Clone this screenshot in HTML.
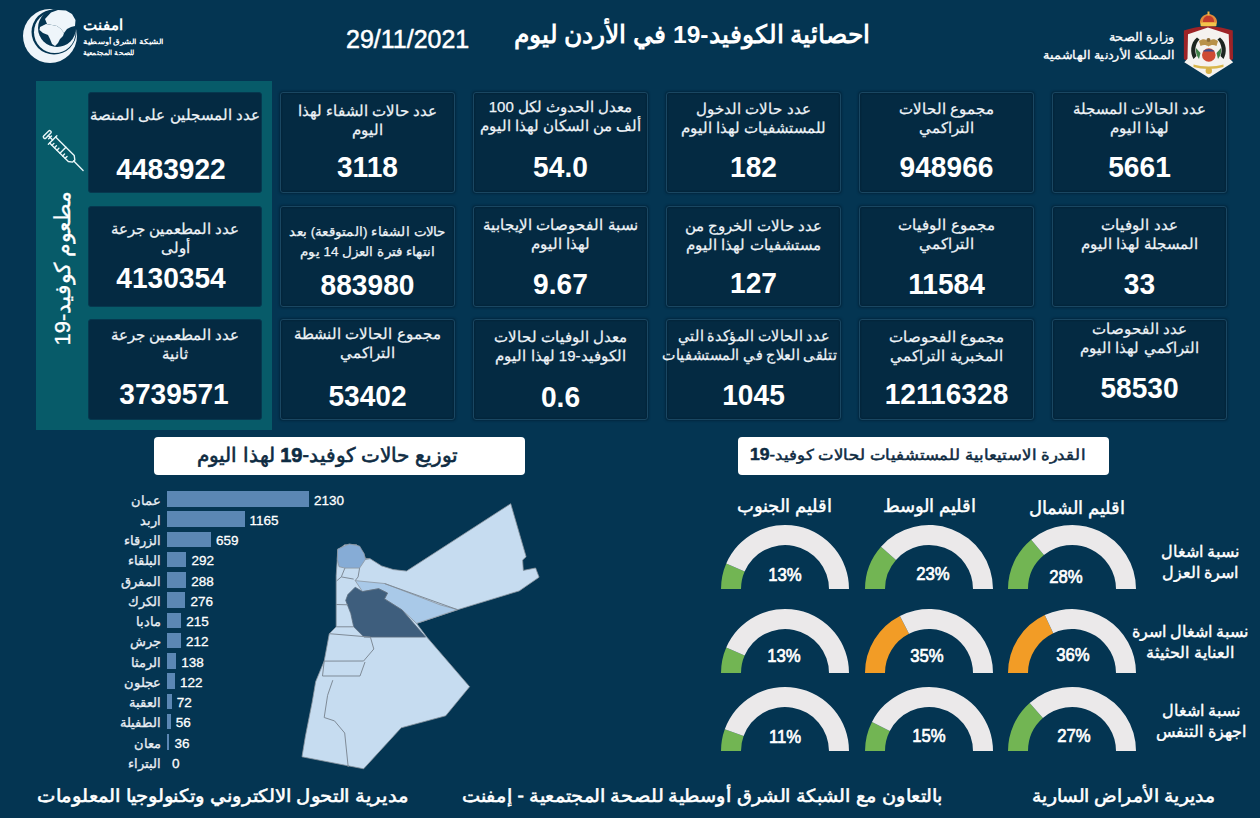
<!DOCTYPE html>
<html><head><meta charset="utf-8"><style>
*{margin:0;padding:0;box-sizing:border-box}
html,body{width:1260px;height:818px;overflow:hidden;background:#043552;font-family:'Liberation Sans', sans-serif;color:#fff}
.a{position:absolute}
.card{position:absolute;width:175px;height:101px;background:#042a42;border:1px solid #1a4762;border-radius:3px;box-shadow:0 0 2px 1px rgba(2,30,50,0.6), inset 0 0 2px rgba(0,15,30,0.6)}
.lbl{position:absolute;white-space:nowrap;text-align:center;direction:rtl;color:#eef3f7;line-height:19px;-webkit-text-stroke:0.25px #eef3f7}
.num{position:absolute;white-space:nowrap;text-align:center;font-weight:bold;font-size:29px;line-height:32px;color:#fff;transform:scaleX(0.97)}
.ar{direction:rtl;white-space:nowrap}
</style></head><body>

<div class="a" style="left:36px;top:81px;width:236px;height:349px;background:#075b69"></div>
<div class="card" style="left:1052px;top:92px"></div>
<div class="lbl" style="left:1052px;width:175px;top:99.2px;font-size:15px;line-height:19px">عدد الحالات المسجلة<br>لهذا اليوم</div>
<div class="num" style="left:1052px;width:175px;top:150.7px">5661</div>
<div class="card" style="left:859px;top:92px"></div>
<div class="lbl" style="left:859px;width:175px;top:99.2px;font-size:15px;line-height:19px">مجموع الحالات<br>التراكمي</div>
<div class="num" style="left:859px;width:175px;top:150.7px">948966</div>
<div class="card" style="left:666px;top:92px"></div>
<div class="lbl" style="left:666px;width:175px;top:99.2px;font-size:15px;line-height:19px">عدد حالات الدخول<br>للمستشفيات لهذا اليوم</div>
<div class="num" style="left:666px;width:175px;top:150.7px">182</div>
<div class="card" style="left:473px;top:92px"></div>
<div class="lbl" style="left:473px;width:175px;top:97.2px;font-size:15px;line-height:19px">معدل الحدوث لكل 100<br>ألف من السكان لهذا اليوم</div>
<div class="num" style="left:473px;width:175px;top:151.2px">54.0</div>
<div class="card" style="left:280px;top:92px"></div>
<div class="lbl" style="left:280px;width:175px;top:100.7px;font-size:15px;line-height:19px">عدد حالات الشفاء لهذا<br>اليوم</div>
<div class="num" style="left:280px;width:175px;top:151.2px">3118</div>
<div class="card" style="left:1052px;top:206px"></div>
<div class="lbl" style="left:1052px;width:175px;top:215.2px;font-size:15px;line-height:19px">عدد الوفيات<br>المسجلة لهذا اليوم</div>
<div class="num" style="left:1052px;width:175px;top:268.3px">33</div>
<div class="card" style="left:859px;top:206px"></div>
<div class="lbl" style="left:859px;width:175px;top:215.2px;font-size:15px;line-height:19px">مجموع الوفيات<br>التراكمي</div>
<div class="num" style="left:859px;width:175px;top:268.3px">11584</div>
<div class="card" style="left:666px;top:206px"></div>
<div class="lbl" style="left:666px;width:175px;top:215.5px;font-size:15px;line-height:19px">عدد حالات الخروج من<br>مستشفيات لهذا اليوم</div>
<div class="num" style="left:666px;width:175px;top:266.9px">127</div>
<div class="card" style="left:473px;top:206px"></div>
<div class="lbl" style="left:473px;width:175px;top:215.0px;font-size:15px;line-height:19px">نسبة الفحوصات الإيجابية<br>لهذا اليوم</div>
<div class="num" style="left:473px;width:175px;top:267.7px">9.67</div>
<div class="card" style="left:280px;top:206px"></div>
<div class="lbl" style="left:280px;width:175px;top:222.2px;font-size:13px;line-height:20px;transform:scaleX(1.04)">حالات الشفاء (المتوقعة) بعد<br>انتهاء فترة العزل 14 يوم</div>
<div class="num" style="left:280px;width:175px;top:269.0px">883980</div>
<div class="card" style="left:1052px;top:319px"></div>
<div class="lbl" style="left:1052px;width:175px;top:319.2px;font-size:15px;line-height:19px">عدد الفحوصات<br>التراكمي لهذا اليوم</div>
<div class="num" style="left:1052px;width:175px;top:371.7px">58530</div>
<div class="card" style="left:859px;top:319px"></div>
<div class="lbl" style="left:859px;width:175px;top:327.2px;font-size:15px;line-height:19px">مجموع الفحوصات<br>المخبرية التراكمي</div>
<div class="num" style="left:859px;width:175px;top:377.7px">12116328</div>
<div class="card" style="left:666px;top:319px"></div>
<div class="lbl" style="left:666px;width:175px;top:325.8px;font-size:15px;line-height:19px;transform:scaleX(0.95)">عدد الحالات المؤكدة التي<br>تتلقى العلاج في المستشفيات</div>
<div class="num" style="left:666px;width:175px;top:378.7px">1045</div>
<div class="card" style="left:473px;top:319px"></div>
<div class="lbl" style="left:473px;width:175px;top:326.9px;font-size:15px;line-height:19px">معدل الوفيات لحالات<br>الكوفيد-19 لهذا اليوم</div>
<div class="num" style="left:473px;width:175px;top:380.7px">0.6</div>
<div class="card" style="left:280px;top:319px"></div>
<div class="lbl" style="left:280px;width:175px;top:324.2px;font-size:15px;line-height:19px">مجموع الحالات النشطة<br>التراكمي</div>
<div class="num" style="left:280px;width:175px;top:380.1px">53402</div>
<div class="card" style="left:88px;top:92px;width:174px;border-color:#06384f;box-shadow:none"></div>
<div class="lbl" style="left:88px;width:174px;top:104.7px;font-size:15px">عدد المسجلين على المنصة</div>
<div class="num" style="left:84px;width:174px;top:152.7px">4483922</div>
<div class="card" style="left:88px;top:206px;width:174px;border-color:#06384f;box-shadow:none"></div>
<div class="lbl" style="left:88px;width:174px;top:218.8px;font-size:15px">عدد المطعمين جرعة<br>أولى</div>
<div class="num" style="left:84px;width:174px;top:261.7px">4130354</div>
<div class="card" style="left:88px;top:319px;width:174px;border-color:#06384f;box-shadow:none"></div>
<div class="lbl" style="left:88px;width:174px;top:325.2px;font-size:15px">عدد المطعمين جرعة<br>ثانية</div>
<div class="num" style="left:87px;width:174px;top:378.2px">3739571</div>
<div class="a ar" style="left:63px;top:268px;transform:translate(-50%,-50%) rotate(-90deg);font-size:22px;font-weight:normal;-webkit-text-stroke:0.3px #fff;color:#fff">مطعوم كوفيد-19</div>
<div class="a ar" style="left:486px;top:20px;width:412px;text-align:center;font-size:24.5px;font-weight:bold;line-height:30px">احصائية الكوفيد-19 في الأردن ليوم</div>
<div class="a" style="left:346px;top:23.5px;font-size:25px;line-height:30px;color:#fff;-webkit-text-stroke:0.5px #fff">29/11/2021</div>
<div class="a ar" style="right:85px;top:27.5px;font-size:12px;line-height:18.5px;text-align:right;color:#fff;transform:scaleX(1.07);transform-origin:100% 0;-webkit-text-stroke:0.3px #fff">وزارة الصحة<br>المملكة الأردنية الهاشمية</div>
<div class="a ar" style="left:83px;top:15.5px;font-size:15px;font-weight:bold;line-height:18px">امفنت</div>
<div class="a ar" style="left:83px;top:35.5px;font-size:7px;font-weight:bold;line-height:11px;transform:scaleX(1.22);transform-origin:0 0">الشبكة الشرق أوسطية</div><div class="a ar" style="left:83px;top:46.5px;font-size:7px;font-weight:bold;line-height:11px;transform:scaleX(1.05);transform-origin:0 0">للصحة المجتمعية</div>
<div class="a" style="left:154px;top:437px;width:371px;height:38px;background:#fff;border-radius:4px"></div>
<div class="a ar" style="left:142px;top:442px;width:371px;text-align:center;font-size:19.5px;font-weight:normal;-webkit-text-stroke:0.6px #0e2b42;color:#0e2b42;line-height:26px;transform:scaleX(1.0)">توزيع حالات كوفيد-<b style="font-size:20px">19</b> لهذا اليوم</div>
<div class="a" style="left:738px;top:437px;width:371px;height:38px;background:#fff;border-radius:4px"></div>
<div class="a ar" style="left:732px;top:443px;width:371px;text-align:center;font-size:15px;font-weight:normal;-webkit-text-stroke:0.5px #0e2b42;color:#0e2b42;line-height:24px;transform:scaleX(1.1)">القدرة الاستيعابية للمستشفيات لحالات كوفيد-<b style="font-size:16px">19</b></div>
<div class="a" style="left:167px;top:491.0px;width:141.9px;height:15.5px;background:#5b87b4"></div>
<div class="a ar" style="right:1099px;top:490.5px;font-size:13px;line-height:19px;color:#e9eef4;-webkit-text-stroke:0.3px #e9eef4">عمان</div>
<div class="a" style="left:313.9px;top:491.5px;font-size:13.5px;line-height:18px;color:#fff;-webkit-text-stroke:0.3px #fff">2130</div>
<div class="a" style="left:167px;top:511.2px;width:77.6px;height:15.5px;background:#5b87b4"></div>
<div class="a ar" style="right:1099px;top:510.8px;font-size:13px;line-height:19px;color:#e9eef4;-webkit-text-stroke:0.3px #e9eef4">اربد</div>
<div class="a" style="left:249.6px;top:511.8px;font-size:13.5px;line-height:18px;color:#fff;-webkit-text-stroke:0.3px #fff">1165</div>
<div class="a" style="left:167px;top:531.5px;width:43.9px;height:15.5px;background:#5b87b4"></div>
<div class="a ar" style="right:1099px;top:531.0px;font-size:13px;line-height:19px;color:#e9eef4;-webkit-text-stroke:0.3px #e9eef4">الزرقاء</div>
<div class="a" style="left:215.9px;top:532.0px;font-size:13.5px;line-height:18px;color:#fff;-webkit-text-stroke:0.3px #fff">659</div>
<div class="a" style="left:167px;top:551.8px;width:19.4px;height:15.5px;background:#5b87b4"></div>
<div class="a ar" style="right:1099px;top:551.2px;font-size:13px;line-height:19px;color:#e9eef4;-webkit-text-stroke:0.3px #e9eef4">البلقاء</div>
<div class="a" style="left:191.4px;top:552.2px;font-size:13.5px;line-height:18px;color:#fff;-webkit-text-stroke:0.3px #fff">292</div>
<div class="a" style="left:167px;top:572.0px;width:19.2px;height:15.5px;background:#5b87b4"></div>
<div class="a ar" style="right:1099px;top:571.5px;font-size:13px;line-height:19px;color:#e9eef4;-webkit-text-stroke:0.3px #e9eef4">المفرق</div>
<div class="a" style="left:191.2px;top:572.5px;font-size:13.5px;line-height:18px;color:#fff;-webkit-text-stroke:0.3px #fff">288</div>
<div class="a" style="left:167px;top:592.2px;width:18.4px;height:15.5px;background:#5b87b4"></div>
<div class="a ar" style="right:1099px;top:591.8px;font-size:13px;line-height:19px;color:#e9eef4;-webkit-text-stroke:0.3px #e9eef4">الكرك</div>
<div class="a" style="left:190.4px;top:592.8px;font-size:13.5px;line-height:18px;color:#fff;-webkit-text-stroke:0.3px #fff">276</div>
<div class="a" style="left:167px;top:612.5px;width:14.3px;height:15.5px;background:#5b87b4"></div>
<div class="a ar" style="right:1099px;top:612.0px;font-size:13px;line-height:19px;color:#e9eef4;-webkit-text-stroke:0.3px #e9eef4">مادبا</div>
<div class="a" style="left:186.3px;top:613.0px;font-size:13.5px;line-height:18px;color:#fff;-webkit-text-stroke:0.3px #fff">215</div>
<div class="a" style="left:167px;top:632.8px;width:14.1px;height:15.5px;background:#5b87b4"></div>
<div class="a ar" style="right:1099px;top:632.2px;font-size:13px;line-height:19px;color:#e9eef4;-webkit-text-stroke:0.3px #e9eef4">جرش</div>
<div class="a" style="left:186.1px;top:633.2px;font-size:13.5px;line-height:18px;color:#fff;-webkit-text-stroke:0.3px #fff">212</div>
<div class="a" style="left:167px;top:653.0px;width:9.2px;height:15.5px;background:#5b87b4"></div>
<div class="a ar" style="right:1099px;top:652.5px;font-size:13px;line-height:19px;color:#e9eef4;-webkit-text-stroke:0.3px #e9eef4">الرمثا</div>
<div class="a" style="left:181.2px;top:653.5px;font-size:13.5px;line-height:18px;color:#fff;-webkit-text-stroke:0.3px #fff">138</div>
<div class="a" style="left:167px;top:673.2px;width:8.1px;height:15.5px;background:#5b87b4"></div>
<div class="a ar" style="right:1099px;top:672.8px;font-size:13px;line-height:19px;color:#e9eef4;-webkit-text-stroke:0.3px #e9eef4">عجلون</div>
<div class="a" style="left:180.1px;top:673.8px;font-size:13.5px;line-height:18px;color:#fff;-webkit-text-stroke:0.3px #fff">122</div>
<div class="a" style="left:167px;top:693.5px;width:4.8px;height:15.5px;background:#5b87b4"></div>
<div class="a ar" style="right:1099px;top:693.0px;font-size:13px;line-height:19px;color:#e9eef4;-webkit-text-stroke:0.3px #e9eef4">العقبة</div>
<div class="a" style="left:176.8px;top:694.0px;font-size:13.5px;line-height:18px;color:#fff;-webkit-text-stroke:0.3px #fff">72</div>
<div class="a" style="left:167px;top:713.8px;width:3.7px;height:15.5px;background:#5b87b4"></div>
<div class="a ar" style="right:1099px;top:713.2px;font-size:13px;line-height:19px;color:#e9eef4;-webkit-text-stroke:0.3px #e9eef4">الطفيلة</div>
<div class="a" style="left:175.7px;top:714.2px;font-size:13.5px;line-height:18px;color:#fff;-webkit-text-stroke:0.3px #fff">56</div>
<div class="a" style="left:167px;top:734.0px;width:2.4px;height:15.5px;background:#5b87b4"></div>
<div class="a ar" style="right:1099px;top:733.5px;font-size:13px;line-height:19px;color:#e9eef4;-webkit-text-stroke:0.3px #e9eef4">معان</div>
<div class="a" style="left:174.4px;top:734.5px;font-size:13.5px;line-height:18px;color:#fff;-webkit-text-stroke:0.3px #fff">36</div>
<div class="a" style="left:167px;top:754.2px;width:0.0px;height:15.5px;background:#5b87b4"></div>
<div class="a ar" style="right:1099px;top:753.8px;font-size:13px;line-height:19px;color:#e9eef4;-webkit-text-stroke:0.3px #e9eef4">البتراء</div>
<div class="a" style="left:172.0px;top:754.8px;font-size:13.5px;line-height:18px;color:#fff;-webkit-text-stroke:0.3px #fff">0</div>
<svg class="a" style="left:0;top:0" width="1260" height="818"><path d="M721.00,589.00 A64,64 0 0 1 726.26,563.58 L744.62,571.53 A44,44 0 0 0 741.00,589.00Z" fill="#72b553"/><path d="M726.26,563.58 A64,64 0 0 1 849.00,589.00 L829.00,589.00 A44,44 0 0 0 744.62,571.53Z" fill="#ebe9ea"/><path d="M865.00,589.00 A64,64 0 0 1 880.99,546.68 L896.00,559.90 A44,44 0 0 0 885.00,589.00Z" fill="#72b553"/><path d="M880.99,546.68 A64,64 0 0 1 993.00,589.00 L973.00,589.00 A44,44 0 0 0 896.00,559.90Z" fill="#ebe9ea"/><path d="M1008.00,589.00 A64,64 0 0 1 1031.20,539.69 L1043.95,555.10 A44,44 0 0 0 1028.00,589.00Z" fill="#72b553"/><path d="M1031.20,539.69 A64,64 0 0 1 1136.00,589.00 L1116.00,589.00 A44,44 0 0 0 1043.95,555.10Z" fill="#ebe9ea"/><path d="M721.00,673.00 A64,64 0 0 1 726.26,647.58 L744.62,655.53 A44,44 0 0 0 741.00,673.00Z" fill="#72b553"/><path d="M726.26,647.58 A64,64 0 0 1 849.00,673.00 L829.00,673.00 A44,44 0 0 0 744.62,655.53Z" fill="#ebe9ea"/><path d="M865.00,673.00 A64,64 0 0 1 899.94,615.98 L909.02,633.80 A44,44 0 0 0 885.00,673.00Z" fill="#f29c26"/><path d="M899.94,615.98 A64,64 0 0 1 993.00,673.00 L973.00,673.00 A44,44 0 0 0 909.02,633.80Z" fill="#ebe9ea"/><path d="M1008.00,673.00 A64,64 0 0 1 1044.75,615.09 L1053.27,633.19 A44,44 0 0 0 1028.00,673.00Z" fill="#f29c26"/><path d="M1044.75,615.09 A64,64 0 0 1 1136.00,673.00 L1116.00,673.00 A44,44 0 0 0 1053.27,633.19Z" fill="#ebe9ea"/><path d="M721.00,751.00 A64,64 0 0 1 724.78,729.32 L743.60,736.10 A44,44 0 0 0 741.00,751.00Z" fill="#72b553"/><path d="M724.78,729.32 A64,64 0 0 1 849.00,751.00 L829.00,751.00 A44,44 0 0 0 743.60,736.10Z" fill="#ebe9ea"/><path d="M865.00,751.00 A64,64 0 0 1 871.98,721.94 L889.80,731.02 A44,44 0 0 0 885.00,751.00Z" fill="#72b553"/><path d="M871.98,721.94 A64,64 0 0 1 993.00,751.00 L973.00,751.00 A44,44 0 0 0 889.80,731.02Z" fill="#ebe9ea"/><path d="M1008.00,751.00 A64,64 0 0 1 1029.68,702.99 L1042.90,718.00 A44,44 0 0 0 1028.00,751.00Z" fill="#72b553"/><path d="M1029.68,702.99 A64,64 0 0 1 1136.00,751.00 L1116.00,751.00 A44,44 0 0 0 1042.90,718.00Z" fill="#ebe9ea"/></svg>
<div class="a" style="left:745px;width:80px;top:564.1px;text-align:center;font-size:19px;font-weight:normal;-webkit-text-stroke:0.7px #fff;line-height:22px;color:#fff;transform:scaleX(0.88)">13%</div>
<div class="a" style="left:892.8px;width:80px;top:562.8px;text-align:center;font-size:19px;font-weight:normal;-webkit-text-stroke:0.7px #fff;line-height:22px;color:#fff;transform:scaleX(0.88)">23%</div>
<div class="a" style="left:1026px;width:80px;top:566.3px;text-align:center;font-size:19px;font-weight:normal;-webkit-text-stroke:0.7px #fff;line-height:22px;color:#fff;transform:scaleX(0.88)">28%</div>
<div class="a" style="left:744px;width:80px;top:645.4px;text-align:center;font-size:19px;font-weight:normal;-webkit-text-stroke:0.7px #fff;line-height:22px;color:#fff;transform:scaleX(0.88)">13%</div>
<div class="a" style="left:887.4px;width:80px;top:644.7px;text-align:center;font-size:19px;font-weight:normal;-webkit-text-stroke:0.7px #fff;line-height:22px;color:#fff;transform:scaleX(0.88)">35%</div>
<div class="a" style="left:1033px;width:80px;top:643.9px;text-align:center;font-size:19px;font-weight:normal;-webkit-text-stroke:0.7px #fff;line-height:22px;color:#fff;transform:scaleX(0.88)">36%</div>
<div class="a" style="left:744.5px;width:80px;top:726.4px;text-align:center;font-size:19px;font-weight:normal;-webkit-text-stroke:0.7px #fff;line-height:22px;color:#fff;transform:scaleX(0.88)">11%</div>
<div class="a" style="left:889.2px;width:80px;top:725.2px;text-align:center;font-size:19px;font-weight:normal;-webkit-text-stroke:0.7px #fff;line-height:22px;color:#fff;transform:scaleX(0.88)">15%</div>
<div class="a" style="left:1033.9px;width:80px;top:725.0px;text-align:center;font-size:19px;font-weight:normal;-webkit-text-stroke:0.7px #fff;line-height:22px;color:#fff;transform:scaleX(0.88)">27%</div>
<div class="a ar" style="left:705px;width:160px;top:494px;text-align:center;font-size:18px;line-height:24px;color:#fff;-webkit-text-stroke:0.45px #fff">اقليم الجنوب</div>
<div class="a ar" style="left:849.5px;width:160px;top:494px;text-align:center;font-size:18px;line-height:24px;color:#fff;-webkit-text-stroke:0.45px #fff">اقليم الوسط</div>
<div class="a ar" style="left:996.5999999999999px;width:160px;top:496px;text-align:center;font-size:18px;line-height:24px;color:#fff;-webkit-text-stroke:0.45px #fff">اقليم الشمال</div>
<div class="a ar" style="left:1130px;width:140px;top:541px;text-align:center;font-size:15.5px;line-height:21px;color:#fff;-webkit-text-stroke:0.4px #fff">نسبة اشغال<br>اسرة العزل</div>
<div class="a ar" style="left:1120px;width:140px;top:621px;text-align:center;font-size:15.5px;line-height:21px;color:#fff;-webkit-text-stroke:0.4px #fff">نسبة اشغال اسرة<br>العناية الحثيثة</div>
<div class="a ar" style="left:1131px;width:140px;top:700px;text-align:center;font-size:15.5px;line-height:21px;color:#fff;-webkit-text-stroke:0.4px #fff">نسبة اشغال<br>اجهزة التنفس</div>
<svg class="a" style="left:0;top:0" width="1260" height="818"><g transform="translate(18,4)"><circle cx="32" cy="32" r="27" fill="#eef5fa"/><circle cx="36" cy="28" r="22.5" fill="#043552"/><circle cx="36.8" cy="28.2" r="20.8" fill="#eef5fa"/><circle cx="39" cy="24" r="19" fill="#043552"/><path d="M27,15 L33,8.5 L40,6 L48,6.5 L54,10 L57.5,16 L57,22 L53,23 L49,25 L46,29 L43,25 L39,22 L34,21 L29,20 Z" fill="#eef5fa"/><path d="M22,23 L28,20 L34,21 L39,22 L43,25 L46,29 L45,32 L42,35 L40,39 L37,42 L34,40 L32,35 L30,31 L25,29 L21.5,26 Z" fill="#eef5fa"/></g><g transform="translate(1178,8)"><path d="M5.9,22.6 C12,20.5 22,18.2 30,18 C38,18.2 48,20.5 54.8,22.6 L55,51 L52,53 L9,53 L5.9,51 Z" fill="#9e2327"/><path d="M10,26.2 L29.9,19.5 L50.7,26.2 L51.6,50.7 L55.2,54.3 L30.8,69.7 L6.3,54.3 L9.5,50.7 Z" fill="#f5f2ef"/><path d="M22,15.5 C21.5,10 25,6.5 30.4,6 C36,6.5 39.5,10 39,15.5 Z" fill="#e08a3a"/><path d="M25,14 C25,10 27,8 30.4,7.5 C34,8 36,10 36,14 Z" fill="#c23b2c"/><rect x="29.5" y="3.5" width="2" height="4" fill="#f0b545"/><rect x="22.5" y="14.5" width="16" height="3.8" rx="1" fill="#f3c54b"/><path d="M19,29.5 C12,35 12,45 15.5,51 L18.5,48 C16.5,43 17,36 21.5,31.5Z" fill="#1d2620"/><path d="M42,29.5 C49,35 49,45 45.5,51 L42.5,48 C44.5,43 44,36 39.5,31.5Z" fill="#1d2620"/><path d="M18,40 C17.5,44 18.5,48 21,51 L22.5,45Z" fill="#3f8048"/><path d="M43,40 C43.5,44 42.5,48 40,51 L38.5,45Z" fill="#3f8048"/><path d="M21,33 C25,30 28,31 30.5,33.5 C33,31 36,30 40,33 L38.5,38 C35,36.5 33,37 30.5,38.5 C28,37 26,36.5 22.5,38 Z" fill="#b99149"/><circle cx="30.5" cy="32" r="2" fill="#8a6a35"/><circle cx="30.8" cy="47" r="6.8" fill="#cf4b33"/><path d="M25,43.5 C27,40 34.5,40 36.5,43.5 Z" fill="#3b4d8c"/><path d="M15.5,56.5 C24,59 37,59 45.5,56.5 L45.5,59 C37,61.5 24,61.5 15.5,59Z" fill="#d9b64c"/><circle cx="30.8" cy="62.8" r="3.2" fill="#d7b24a"/></g><g stroke="#eaf6f8" stroke-width="1.4" fill="none" stroke-linecap="round" stroke-linejoin="round"><g transform="translate(63.5,150.8) rotate(45)"><rect x="-24.5" y="-4.8" width="3" height="9.6" rx="1.2"/><line x1="-21.5" y1="0" x2="-15.4" y2="0"/><line x1="-19" y1="-2" x2="-19" y2="2"/><line x1="-15.4" y1="-6" x2="-15.4" y2="6"/><path d="M-15.4,-4.2 L11,-4.2 L14.5,-1.5 L14.5,1.5 L11,4.2 L-15.4,4.2"/><line x1="-0.8" y1="-4.2" x2="-0.8" y2="4.2"/><line x1="-12" y1="1.5" x2="-12" y2="4.2"/><line x1="-8.5" y1="1.5" x2="-8.5" y2="4.2"/><line x1="-5" y1="1.5" x2="-5" y2="4.2"/><line x1="3" y1="1.5" x2="3" y2="4.2"/><line x1="6.5" y1="1.5" x2="6.5" y2="4.2"/><line x1="14.5" y1="0" x2="27.7" y2="0"/></g></g><polygon points="337.9,549.9 344.7,544.7 356.7,544.7 363.6,553.3 365.3,558.4 369.9,558.6 381.6,565.9 393.3,569.6 406.5,571.1 510.7,503.7 526.1,556.7 522.6,560.1 523.3,570.4 535.6,568.0 539.1,577.2 519.2,590.9 457.6,609.7 416.6,623.4 426.8,637.1 469.6,686.7 445.7,715.8 401.2,727.8 363.6,768.8 302.0,756.8 305.4,736.3 312.2,702.1 315.7,681.6 324.2,661.1 329.3,633.7 336.2,626.8 336.2,602.9 336.2,575.5" fill="#c6dcf0" stroke="#8b95a0" stroke-width="0.8"/><polygon points="355.2,580.6 369,582 384.5,583.5 440,604.8 457.6,609.7 416.6,623.4 402.1,610 384.5,598.9 387.5,593.1 378.7,588.7 362.5,591.6" fill="#a9c9e8" stroke="#8b95a0" stroke-width="0.8"/><polygon points="355.2,587.2 362.5,591.6 378.7,588.7 387.5,593.1 384.5,598.9 402.1,610 425.6,637.1 364,637.1 353.7,626.8 350.8,613.6 345.7,600.4 347.9,594.5" fill="#3e5e7d" stroke="#5d6f80" stroke-width="0.8"/><polygon points="337.6,549.1 349.3,543.9 359.6,546.1 364,553.5 365.5,559.3 359.6,568.1 345,568.1 339,566.7 337.3,559.3" fill="#86acd6" stroke="#8b95a0" stroke-width="0.8"/><polyline points="344.9,568.1 341.3,576.9 353.7,579.1" fill="none" stroke="#7f8b97" stroke-width="1"/><polyline points="359.6,568.1 358.1,576.9 355.2,580.6" fill="none" stroke="#7f8b97" stroke-width="1"/><polyline points="336.5,581 341.3,576.9" fill="none" stroke="#7f8b97" stroke-width="1"/><polyline points="365.5,559.3 369.9,558.6" fill="none" stroke="#7f8b97" stroke-width="1"/><polyline points="384.5,583.5 457.6,609.7" fill="none" stroke="#7f8b97" stroke-width="1"/><polyline points="336.2,604.5 347.9,604.8" fill="none" stroke="#7f8b97" stroke-width="1"/><polyline points="336.2,626.8 353.7,626.8" fill="none" stroke="#7f8b97" stroke-width="1"/><polyline points="329.3,633.7 370.4,637.1" fill="none" stroke="#7f8b97" stroke-width="1"/><polyline points="370.4,637.1 373.8,649" fill="none" stroke="#7f8b97" stroke-width="1"/><polyline points="373.8,649 363.6,661" fill="none" stroke="#7f8b97" stroke-width="1"/><polyline points="324.2,661.1 363.6,661" fill="none" stroke="#7f8b97" stroke-width="1"/><polyline points="324.2,661.1 322.5,676 360,676 365,662" fill="none" stroke="#7f8b97" stroke-width="1"/><polyline points="332.8,680.2 327.6,695.3 324.2,717.5 334.5,720.9 344.7,733 348.2,767" fill="none" stroke="#7f8b97" stroke-width="1"/></svg>
<div class="a ar" style="left:38px;top:784px;width:370px;text-align:center;font-size:18px;font-weight:normal;-webkit-text-stroke:0.55px #fff;line-height:24px;transform:scaleX(1.088)">مديرية التحول الالكتروني وتكنولوجيا المعلومات</div>
<div class="a ar" style="left:462px;top:784px;width:480px;text-align:center;font-size:18px;font-weight:normal;-webkit-text-stroke:0.55px #fff;line-height:24px;transform:scaleX(1.07)">بالتعاون مع الشبكة الشرق أوسطية للصحة المجتمعية - إمفنت</div>
<div class="a ar" style="left:1033px;top:784px;width:181px;text-align:center;font-size:18px;font-weight:normal;-webkit-text-stroke:0.55px #fff;line-height:24px;transform:scaleX(1.04)">مديرية الأمراض السارية</div>
</body></html>
